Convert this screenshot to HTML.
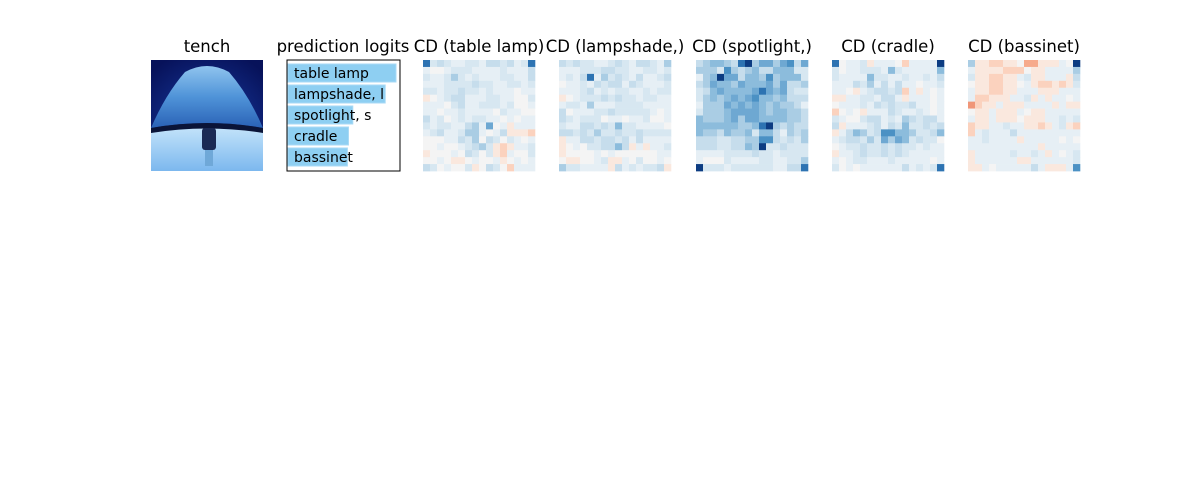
<!DOCTYPE html>
<html><head><meta charset="utf-8"><style>
body{margin:0;background:#fff;width:1200px;height:500px;overflow:hidden;font-family:"Liberation Sans","DejaVu Sans",sans-serif}
svg{display:block}
</style></head><body>
<svg id="fig" width="1200" height="500" xmlns="http://www.w3.org/2000/svg" font-family="DejaVu Sans, Liberation Sans, sans-serif">
<defs>
<radialGradient id="bg" cx="0.5" cy="0.6" r="0.7"><stop offset="0" stop-color="#1a3fa8"/><stop offset="1" stop-color="#07125a"/></radialGradient>
<linearGradient id="shade" x1="0" y1="0" x2="0" y2="1"><stop offset="0" stop-color="#8fc4ee"/><stop offset="0.5" stop-color="#4f93d8"/><stop offset="1" stop-color="#2a62b6"/></linearGradient>
<linearGradient id="light" x1="0" y1="0" x2="0" y2="1"><stop offset="0" stop-color="#c8e6fb"/><stop offset="1" stop-color="#7cb8ee"/></linearGradient>
</defs>
<g>
<text x="207" y="52" font-size="16.5" text-anchor="middle">tench</text>
<rect x="151" y="60" width="112" height="111" fill="url(#bg)"/>
<path d="M151,171 L151,130 Q207,118 263,130 L263,171 Z" fill="url(#light)"/>
<path d="M151,128 Q165,95 185,72 Q207,60 229,72 Q249,95 263,128 Q207,118 151,128 Z" fill="url(#shade)"/>
<path d="M151,128 Q207,118 263,128 L263,133 Q207,124 151,133 Z" fill="#0a1438"/>
<rect x="202" y="128" width="14" height="22" rx="3" fill="#1a2a55"/>
<rect x="205" y="150" width="8" height="16" fill="#6fa8d8"/>
</g>
<g id="logits">
<text x="343" y="52" font-size="16.5" text-anchor="middle">prediction logits</text>
</g>
<g id="maps"></g>
</svg>
<script>
const logitLabels=["table lamp","lampshade, l","spotlight, s","cradle","bassinet"];
const logitValues=[1.0,0.9,0.6,0.56,0.55];
const mapTitles=["CD (table lamp)","CD (lampshade,)","CD (spotlight,)","CD (cradle)","CD (bassinet)"];
const map0=["8232112213323128","1001222111121113","2112421211122113","1112222322112212","2212232212111011","a012331112211002","1110231122212001","1101121111021100","3120121221101011","212211341601a111","123112441013aaab","0001132403202101","0010012342aba112","a000103202ab1002","0010aa01001a0101","3201002a0320b111"];
const map1=["3232211232133214","1112223322112212","1213814232131123","0112132331321112","1112312122112122","a012223232212211","1221411122221111","3011122322222101","3212220110112001","2113323252211110","3323242232232222","a113323323131111","a010223353a1a112","a000010100000011","0aa0012aa1020010","4221111a3121223a"];
const map2=["3455438946646736","4442743453355522","1459663554745552","3465546555646334","2356555568656322","2454565675545333","1444656565454431","2444566665455443","5444564665555443","5555554458943433","5443544525531434","3332233447732324","3332233549223222","1111222232212222","1000211112211224","9222122222211338"];
const map3=["80112a1110b11119","2011222152111115","2111152211211213","1113241313110112","110a123323b1a101","aa11221331a11101","0111213232231101","b010a11132112101","2100233121432331","3a11123132522323","a135423775542235","1233242646523220","0122322323221211","a112322323211111","1012211121111101","2010111111312128"];
const map4=["4aabbaa0ccaaa109","1aaaabbb0aa11114","2aabbaa12aa111a3","0aabbaa01abbaba2","1aabbaa111aaa111","1bbaaa112a1a1101","dbaa1aaa1111a1aa","0aa1aaa10aa11111","1aa1aaa0aaa11212","baa11211aaba12ab","b121113111111111","1121111a11111010","1111111111a11111","a1111121121a1012","a111111aa1111112","aa101111131aaa17"];
const maps=[map0,map1,map2,map3,map4];
const NS="http://www.w3.org/2000/svg";
const svg=document.getElementById('fig');
function el(t,a,p){const e=document.createElementNS(NS,t);for(const k in a)e.setAttribute(k,a[k]);(p||svg).appendChild(e);return e;}
const L=document.getElementById('logits');
const lx0=287,lw=113,ly0=60,lh=111;
function xScale(v){return lx0+1+v*(lw-5);}
function yBand(i){return ly0+4+i*(lh-6)/logitLabels.length;}
logitLabels.forEach((lab,i)=>{
 const bh=(lh-6)/logitLabels.length-3;
 const r=el('rect',{x:lx0+1,y:yBand(i),width:xScale(logitValues[i])-lx0-1,height:bh,fill:'#8ecff2',stroke:'#a8daf5'},L);
 
 
 const t=el('text',{x:lx0+7,y:yBand(i)+bh/2+5,'font-size':14},L);
 
 
 t.textContent=lab;
});
const fr=el('rect',{x:lx0,y:ly0,width:lw,height:lh,fill:'none',stroke:'#000','stroke-width':1},L);


const blues=[[244,244,244],[230,239,245],[215,231,241],[198,221,236],[170,205,228],[140,188,220],[110,168,210],[75,145,196],[45,115,178],[12,60,130]];
const reds={a:[250,232,222],b:[251,210,190],c:[246,170,140],d:[240,150,120]};
function color(ch){const c=reds[ch]||blues[+ch];return `rgb(${c[0]},${c[1]},${c[2]})`;}
const mx=[423,559,696,832,968];
const G=document.getElementById('maps');
maps.forEach((m,k)=>{
 const g=el('g',{},G);
 
 
 const t=el('text',{x:mx[k]+56,y:52,'font-size':16.5,'text-anchor':'middle'},g);
 
 
 t.textContent=mapTitles[k];
 const cs=112/16;
 m.forEach((row,r)=>{for(let c=0;c<16;c++){
  const cell=el('rect',{x:mx[k]+c*cs,y:60+r*cs*111/112,width:cs+0.3,height:cs+0.3,fill:color(row[c])},g);
  
  
 }});
});
</script>
</body></html>
